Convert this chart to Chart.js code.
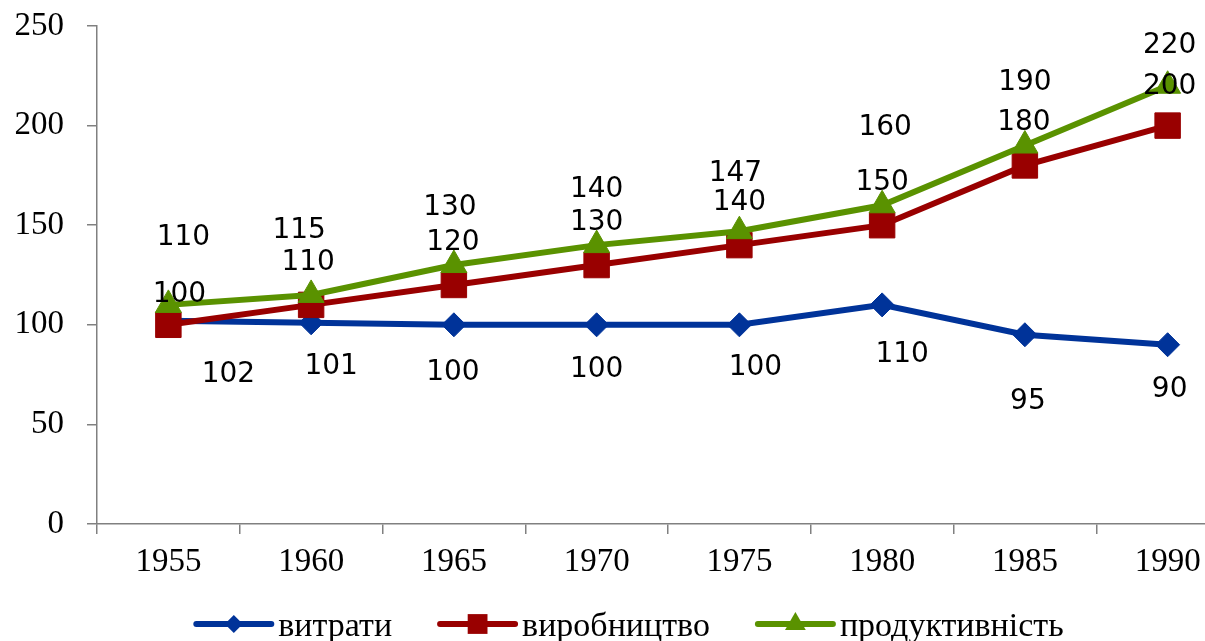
<!DOCTYPE html>
<html>
<head>
<meta charset="utf-8">
<script src="https://cdn.jsdelivr.net/npm/chart.js"></script>
<style>
    html, body { margin: 0; padding: 0; background: #ffffff; overflow: hidden; }
    #wrap { position: absolute; left: 0; top: 0; width: 1258px; height: 641px; }
</style>
</head>
<body>
<div id="wrap"><canvas id="chart"></canvas></div>
<script>
// Data
const years = ['1955', '1960', '1965', '1970', '1975', '1980', '1985', '1990'];
const seriesNames = ['витрати', 'виробництво', 'продуктивність'];
const costs = [102, 101, 100, 100, 100, 110, 95, 90];
const production = [100, 110, 120, 130, 140, 150, 180, 200];
const productivity = [110, 115, 130, 140, 147, 160, 190, 220];
const yMin = 0, yMax = 250, yStep = 50;

// Hand-placed label offsets (px from the point), like the original
const costsLabelOffsets = [[60, 54], [20, 44], [-1, 48], [0, 45], [16, 43], [20, 50], [3, 67], [2, 45]];
const productionLabelOffsets = [[11, -30], [-3, -42], [-1, -42], [0, -42], [0, -42], [0, -42], [-1, -43], [2, -39]];
const productivityLabelOffsets = [[15, -67], [-12, -64], [-4, -57], [0, -55], [-4, -57], [3, -78], [0, -63], [2, -40]];

const colors = ['#003399', '#990000', '#5a9200'];
const serif = '"Liberation Serif", "Times New Roman", serif';

function drawMarker(ctx, style, x, y, r) {
    ctx.beginPath();
    if (style === 'rectRot') {
        ctx.moveTo(x - r, y); ctx.lineTo(x, y - r); ctx.lineTo(x + r, y); ctx.lineTo(x, y + r);
    } else if (style === 'rect') {
        const s = Math.SQRT1_2 * r;
        ctx.rect(x - s, y - s, 2 * s, 2 * s);
    } else {
        const h = r * Math.sqrt(3) / 2;
        ctx.moveTo(x, y - r); ctx.lineTo(x + h, y + r / 2); ctx.lineTo(x - h, y + r / 2);
    }
    ctx.closePath();
    ctx.fill();
}

// Value labels next to each point
const valueLabels = {
    id: 'valueLabels',
    afterDatasetsDraw(chart) {
        const ctx = chart.ctx;
        ctx.save();
        ctx.font = '28px "DejaVu Sans", Verdana, sans-serif';
        ctx.fillStyle = '#000000';
        ctx.textAlign = 'center';
        ctx.textBaseline = 'middle';
        chart.data.datasets.forEach((ds, i) => {
            const meta = chart.getDatasetMeta(i);
            meta.data.forEach((pt, j) => {
                const off = ds.labelOffsets[j];
                ctx.fillText(String(ds.data[j]), pt.x + off[0], pt.y + off[1]);
            });
        });
        ctx.restore();
    }
};

// Legend: line with marker, then the name
const lineLegend = {
    id: 'lineLegend',
    afterDraw(chart) {
        const ctx = chart.ctx;
        const lineLen = 75, textGap = 7, itemGap = 48, centerX = 630, y = 624;
        ctx.save();
        ctx.font = '34px ' + serif;
        const items = chart.data.datasets.map(ds => ({ ds, w: ctx.measureText(ds.label).width }));
        const total = items.reduce((s, it) => s + lineLen + textGap + it.w, 0) + itemGap * (items.length - 1);
        let x = centerX - total / 2;
        items.forEach(it => {
            ctx.strokeStyle = it.ds.borderColor;
            ctx.fillStyle = it.ds.borderColor;
            ctx.lineWidth = 6;
            ctx.lineCap = 'round';
            ctx.beginPath();
            ctx.moveTo(x, y);
            ctx.lineTo(x + lineLen, y);
            ctx.stroke();
            drawMarker(ctx, it.ds.pointStyle, x + lineLen / 2, y, it.ds.legendRadius);
            ctx.fillStyle = '#000000';
            ctx.textAlign = 'left';
            ctx.textBaseline = 'middle';
            ctx.fillText(it.ds.label, x + lineLen + textGap, y + 3);
            x += lineLen + textGap + it.w + itemGap;
        });
        ctx.restore();
    }
};

const ctx = document.getElementById('chart').getContext('2d');
new Chart(ctx, {
    type: 'line',
    data: {
        labels: years,
        datasets: [
            {
                label: seriesNames[0],
                data: costs,
                labelOffsets: costsLabelOffsets,
                borderColor: colors[0],
                backgroundColor: colors[0],
                pointStyle: 'rectRot',
                pointRadius: 12,
                legendRadius: 9,
                order: 3
            },
            {
                label: seriesNames[1],
                data: production,
                labelOffsets: productionLabelOffsets,
                borderColor: colors[1],
                backgroundColor: colors[1],
                pointStyle: 'rect',
                pointRadius: 18,
                legendRadius: 14,
                order: 2
            },
            {
                label: seriesNames[2],
                data: productivity,
                labelOffsets: productivityLabelOffsets,
                borderColor: colors[2],
                backgroundColor: colors[2],
                pointStyle: 'triangle',
                pointRadius: 15,
                legendRadius: 12,
                order: 1
            }
        ]
    },
    options: {
        responsive: true,
        maintainAspectRatio: false,
        animation: false,
        elements: {
            line: { borderWidth: 6, tension: 0, fill: false },
            point: { borderWidth: 1, hoverRadius: 12 }
        },
        layout: {
            padding: { left: 15, top: 26, right: 0, bottom: 61 }
        },
        scales: {
            x: {
                type: 'category',
                offset: true,
                afterFit: (scale) => {
                    scale.height = 56;
                    scale.paddingLeft = 0;
                    scale.paddingRight = 0;
                },
                border: { color: '#808080', width: 1.5 },
                grid: { offset: true, drawOnChartArea: false, drawTicks: true, tickLength: 10, color: '#808080', lineWidth: 1.5 },
                ticks: { color: '#000000', padding: 9, maxRotation: 0, font: { family: serif, size: 33 } }
            },
            y: {
                min: yMin,
                max: yMax,
                afterFit: (scale) => {
                    scale.width = 82;
                    scale.paddingTop = 0;
                    scale.paddingBottom = 0;
                },
                border: { color: '#808080', width: 1.5 },
                grid: { drawOnChartArea: false, drawTicks: true, tickLength: 10, color: '#808080', lineWidth: 1.5 },
                ticks: { stepSize: yStep, color: '#000000', padding: 23, font: { family: serif, size: 33 } }
            }
        },
        plugins: {
            legend: { display: false },
            tooltip: { enabled: false }
        }
    },
    plugins: [valueLabels, lineLegend]
});
</script>
</body>
</html>
